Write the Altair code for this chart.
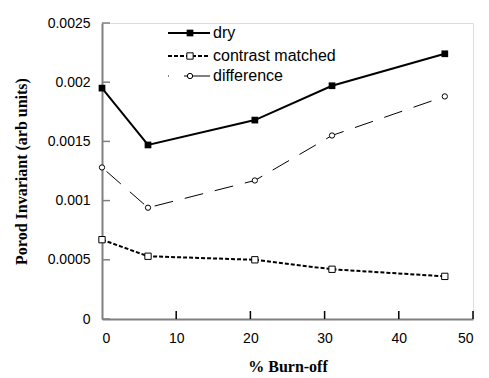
import altair as alt
import pandas as pd

burnoff = [0.0, 6.2, 20.6, 31.0, 46.2]
dry = [0.00195, 0.00147, 0.00168, 0.00197, 0.00224]
contrast = [0.00067, 0.00053, 0.00050, 0.00042, 0.00036]
difference = [0.00128, 0.00094, 0.00117, 0.00155, 0.00188]
series_names = ["dry", "contrast matched", "difference"]
y_ticks = [0, 0.0005, 0.001, 0.0015, 0.002, 0.0025]
x_ticks = [0, 10, 20, 30, 40, 50]

rows = []
for name, vals in zip(series_names, [dry, contrast, difference]):
    for x, v in zip(burnoff, vals):
        rows.append({"series": name, "x": x, "y": v})
df = pd.DataFrame(rows)

W, H = 371, 296
xs = alt.Scale(domain=[0, 50], nice=False)
ys = alt.Scale(domain=[0, 0.0025], nice=False)

X = alt.X("x:Q", scale=xs, title="% Burn-off",
          axis=alt.Axis(values=x_ticks, ticks=False, grid=False, domainColor="#808080",
                        domainWidth=2, labelFont="Liberation Sans", labelFontSize=14,
                        labelColor="black", labelPadding=12, titleFont="Liberation Serif",
                        titleFontSize=16, titleFontWeight="bold", titleColor="black",
                        titlePadding=13))
Y = alt.Y("y:Q", scale=ys, title="Porod Invariant (arb units)",
          axis=alt.Axis(values=y_ticks, ticks=False, grid=False, domainColor="#808080",
                        domainWidth=2, labelFont="Liberation Sans", labelFontSize=14,
                        labelColor="black", labelPadding=12, titleFont="Liberation Serif",
                        titleFontSize=16, titleFontWeight="bold", titleColor="black",
                        titlePadding=18,
                        labelExpr="datum.value == 0 ? '0' : format(datum.value, '~g')"))

base = alt.Chart(df)

def sel(name):
    return base.transform_filter(alt.datum.series == name)

dry_line = sel("dry").mark_line(color="black", strokeWidth=2).encode(x=X, y=Y)
dry_pts = sel("dry").mark_point(shape="square", filled=True, color="black", size=45, opacity=1).encode(x="x:Q", y="y:Q")
con_line = sel("contrast matched").mark_line(color="black", strokeWidth=2, strokeDash=[4, 2]).encode(x="x:Q", y="y:Q")
con_pts = sel("contrast matched").mark_point(shape="square", filled=True, fill="white", stroke="black", strokeWidth=1, size=40, opacity=1).encode(x="x:Q", y="y:Q")
dif_line = sel("difference").mark_line(color="black", strokeWidth=1, strokeDash=[19, 12], strokeDashOffset=-6).encode(x="x:Q", y="y:Q")
dif_pts = sel("difference").mark_point(shape="circle", filled=True, fill="white", stroke="black", strokeWidth=1, size=28, opacity=1).encode(x="x:Q", y="y:Q")

ytick_df = pd.DataFrame({"y": y_ticks})
ytick_rules = alt.Chart(ytick_df).mark_rule(color="#808080", strokeWidth=1.5).encode(
    y="y:Q", x=alt.value(0), x2=alt.value(8))
xtick_df = pd.DataFrame({"x": x_ticks[1:]})
xtick_rules = alt.Chart(xtick_df).mark_rule(color="black", strokeWidth=1.5).encode(
    x="x:Q", y=alt.value(H), y2=alt.value(H - 8))

# legend
leg_y = [10, 33, 53]
leg = pd.DataFrame({"label": series_names, "ly": leg_y})
LX0, LX1, LXM, LXT = 66, 108, 88, 111
leg_dry = alt.Chart(leg.iloc[[0]]).mark_rule(color="black", strokeWidth=2).encode(
    x=alt.value(LX0), x2=alt.value(LX1), y="ly:Q")
leg_con = alt.Chart(leg.iloc[[1]]).mark_rule(color="black", strokeWidth=2, strokeDash=[4, 2]).encode(
    x=alt.value(LX0), x2=alt.value(LX1), y="ly:Q")
leg_dif = alt.Chart(leg.iloc[[2]]).mark_rule(color="black", strokeWidth=1, strokeDash=[1, 15, 40, 1]).encode(
    x=alt.value(LX0), x2=alt.value(LX1), y="ly:Q")
leg_p1 = alt.Chart(leg.iloc[[0]]).mark_point(shape="square", filled=True, color="black", size=45, opacity=1).encode(
    x=alt.value(LXM), y="ly:Q")
leg_p2 = alt.Chart(leg.iloc[[1]]).mark_point(shape="square", filled=True, fill="white", stroke="black", strokeWidth=1, size=40, opacity=1).encode(
    x=alt.value(LXM), y="ly:Q")
leg_p3 = alt.Chart(leg.iloc[[2]]).mark_point(shape="circle", filled=True, fill="white", stroke="black", strokeWidth=1, size=28, opacity=1).encode(
    x=alt.value(LXM), y="ly:Q")
leg_txt = alt.Chart(leg).mark_text(align="left", baseline="middle", font="Liberation Sans", fontSize=16, color="black").encode(
    x=alt.value(LXT), y="ly:Q", text="label:N")

ly_scale = alt.Scale(domain=[0, H], range=[0, H])
def fixy(c):
    return c.encode(y=alt.Y("ly:Q", scale=ly_scale, axis=None))

legend_layers = [fixy(l) for l in [leg_dry, leg_con, leg_dif, leg_p1, leg_p2, leg_p3, leg_txt]]

data_layer = alt.layer(dry_line, dry_pts, con_line, con_pts, dif_line, dif_pts, ytick_rules, xtick_rules)
legend_layer = alt.layer(*legend_layers)

chart = alt.layer(data_layer, legend_layer).resolve_scale(y="independent").properties(
    width=W, height=H,
    autosize=alt.AutoSizeParams(type="none"),
    padding={"left": 94, "top": 15, "right": 8, "bottom": 58},
).configure_view(stroke=None).configure(background="white")

chart.save("out.html", embed_options={"renderer": "svg", "actions": False})
